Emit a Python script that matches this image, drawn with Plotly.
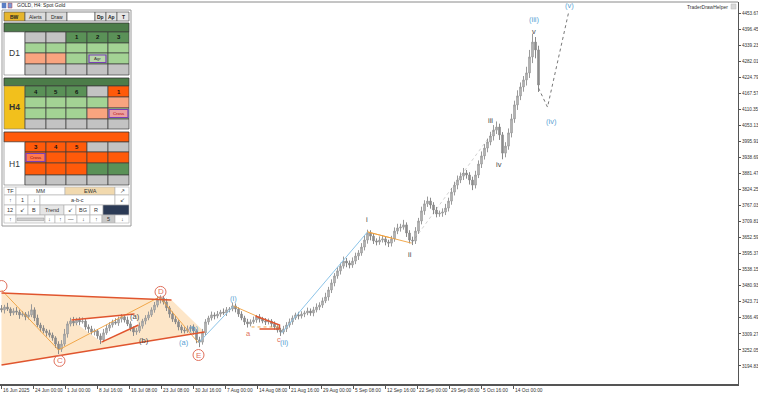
import plotly.graph_objects as go

# ---------------- data ----------------
closes = [
    3395, 3405, 3398, 3384, 3391, 3387, 3377, 3380, 3370, 3377,
    3395, 3366, 3341, 3330, 3320, 3313, 3305, 3295, 3273, 3255,
    3273, 3309, 3345, 3355, 3348, 3359, 3352, 3355, 3334, 3327,
    3316, 3320, 3302, 3288, 3313, 3330, 3341, 3352, 3348, 3362,
    3370, 3359, 3345, 3330, 3316, 3320, 3337, 3355, 3366, 3377,
    3395, 3412, 3430, 3437, 3423, 3402, 3380, 3362, 3352, 3334,
    3323, 3320, 3327, 3334, 3320, 3288, 3280, 3313, 3352, 3366,
    3377, 3373, 3380, 3387, 3384, 3395, 3398, 3409, 3398, 3380,
    3366, 3352, 3345, 3352, 3359, 3370, 3362, 3355, 3352, 3355,
    3345, 3334, 3323, 3316, 3327, 3341, 3352, 3366, 3377, 3373,
    3380, 3384, 3391, 3384, 3395, 3405, 3412, 3427, 3441, 3466,
    3491, 3516, 3534, 3551, 3569, 3562, 3555, 3569, 3587, 3598,
    3619, 3644, 3669, 3658, 3641, 3637, 3644, 3648, 3637, 3633,
    3648, 3676, 3687, 3690, 3698, 3669, 3644, 3641, 3676, 3712,
    3748, 3773, 3783, 3769, 3751, 3737, 3740, 3744, 3758, 3783,
    3815, 3840, 3858, 3872, 3883, 3876, 3858, 3840, 3876, 3915,
    3944, 3972, 3994, 4015, 4036, 4047, 4019, 3954, 3979, 4026,
    4076, 4126, 4158, 4190, 4215, 4240, 4297, 4350, 4322, 4197,
]
wick_up = [
    12, 8, 15, 6, 10, 14, 9, 11, 7, 13,
    20, 9, 12, 8, 10, 7, 11, 9, 6, 10,
    14, 18, 9, 12, 15, 8, 10, 13, 7, 9,
    11, 8, 6, 9, 14, 12, 10, 8, 13, 9,
    10, 7, 12, 9, 6, 11, 13, 8, 10, 12,
    9, 11, 14, 10, 8, 12, 7, 9, 11, 6,
    8, 10, 12, 7, 9, 6, 11, 14, 10, 8,
    12, 9, 11, 8, 13, 10, 7, 12, 9, 6,
    10, 8, 11, 9, 12, 7, 10, 8, 11, 9,
    7, 9, 6, 8, 11, 10, 12, 9, 8, 11,
    10, 8, 12, 9, 11, 13, 10, 12, 15, 11,
    13, 10, 14, 12, 16, 11, 9, 13, 12, 10,
    14, 16, 12, 10, 11, 9, 13, 12, 10, 8,
    11, 13, 15, 12, 18, 9, 10, 12, 14, 11,
    15, 13, 16, 12, 10, 11, 9, 13, 15, 12,
    14, 12, 16, 13, 18, 11, 10, 12, 15, 13,
    16, 14, 12, 15, 18, 20, 12, 10, 14, 16,
    18, 15, 20, 16, 14, 22, 25, 30, 18, 15,
]
wick_dn = [
    9, 13, 7, 11, 8, 10, 14, 6, 12, 9,
    8, 11, 7, 12, 9, 13, 8, 10, 14, 18,
    10, 7, 13, 9, 11, 8, 12, 6, 10, 14,
    9, 12, 10, 15, 8, 7, 11, 9, 6, 10,
    12, 9, 8, 11, 14, 10, 7, 9, 12, 8,
    7, 10, 8, 12, 9, 11, 13, 10, 8, 12,
    11, 9, 7, 10, 13, 12, 18, 9, 8, 10,
    9, 12, 8, 10, 7, 11, 9, 8, 12, 10,
    8, 11, 13, 9, 7, 10, 12, 8, 11, 9,
    12, 10, 9, 14, 8, 11, 9, 10, 7, 12,
    9, 11, 8, 10, 12, 9, 11, 10, 8, 13,
    11, 12, 10, 13, 9, 15, 12, 10, 11, 14,
    10, 12, 13, 15, 11, 12, 10, 9, 12, 14,
    12, 10, 11, 13, 9, 14, 12, 15, 11, 10,
    12, 14, 11, 13, 15, 12, 10, 13, 11, 12,
    13, 12, 15, 11, 14, 13, 16, 18, 12, 11,
    14, 13, 15, 12, 16, 14, 18, 22, 15, 13,
    16, 14, 18, 15, 17, 20, 18, 22, 30, 25,
]
first_open = 3400
bars_per_candle = 3

x_tick_bars = [0, 32, 64, 96, 128, 160, 192, 224, 256, 288, 320, 352, 384, 416, 448, 480, 512]
x_tick_labels = ["16 Jun 2025", "24 Jun 00:00", "1 Jul 00:00", "8 Jul 16:00", "16 Jul 08:00",
                 "23 Jul 08:00", "30 Jul 16:00", "7 Aug 00:00", "14 Aug 08:00", "21 Aug 16:00",
                 "29 Aug 00:00", "5 Sep 08:00", "12 Sep 16:00", "22 Sep 00:00", "29 Sep 08:00",
                 "5 Oct 16:00", "14 Oct 00:00"]
y_ticks = [4453.67, 4396.45, 4339.23, 4282.01, 4224.79, 4167.57, 4110.35, 4053.13, 3995.91,
           3938.69, 3881.47, 3824.25, 3767.03, 3709.81, 3652.59, 3595.37, 3538.15, 3480.93,
           3423.71, 3366.49, 3309.27, 3252.05, 3194.83]

# Elliott-wave drawing objects (bar, price)
wedge_bar = [0, 170, 203, 0]
wedge_price = [3455, 3430, 3316, 3198]
inner_bar = [70, 133, 137, 100]
inner_price = [3359, 3380, 3341, 3280]

red_lines = [
    ([0, 170], [3455, 3430]),
    ([0, 203], [3198, 3316]),
    ([70, 133], [3359, 3380]),
    ([100, 137], [3280, 3341]),
    ([254, 278, 278, 258], [3373, 3341, 3327, 3327]),
]
orange_lines = [
    ([0, 57, 158, 197], [3466, 3252, 3441, 3277]),
    ([232, 255], [3409, 3373]),
    ([366, 390], [3673, 3651]),
    ([366, 410], [3673, 3633]),
]
orange_dotted = [([250, 278], [3334, 3334])]
blue_lines = [
    ([197, 232], [3277, 3409]),
    ([280, 366], [3312, 3673]),
]
gray_dotted = [([410, 495], [3633, 4047])]
projection_bar = [537, 546, 567]
projection_price = [4186, 4118, 4454]

circle_labels = [("", 0, 3480), ("C", 58, 3213), ("D", 159, 3459), ("E", 197, 3234)]
wave_labels = [
    ("(a)", 133, 3373, "#4a4a4a"), ("(b)", 142, 3284, "#4a4a4a"),
    ("(a)", 182, 3280, "#5a9fd4"), ("(b)", 192, 3330, "#5a9fd4"),
    ("(i)", 232, 3434, "#5a9fd4"), ("(ii)", 283, 3277, "#5a9fd4"),
    ("a", 247, 3309, "#e0705c"), ("c", 277, 3290, "#e0705c"),
    ("i", 365, 3719, "#4a4a4a"), ("ii", 408, 3591, "#4a4a4a"),
    ("iii", 489, 4072, "#4a4a4a"), ("iv", 497, 3912, "#4a4a4a"), ("v", 532, 4389, "#4a4a4a"),
    ("(iii)", 532, 4429, "#5a9fd4"), ("(iv)", 550, 4065, "#5a9fd4"), ("(v)", 568, 4479, "#5a9fd4"),
]

# ---------------- figure ----------------
xs = [i * bars_per_candle for i in range(len(closes))]
opens = [first_open] + closes[:-1]
highs = [max(o, c) + w for o, c, w in zip(opens, closes, wick_up)]
lows = [min(o, c) - w for o, c, w in zip(opens, closes, wick_dn)]

W, H = 758, 395
L, R, T, B = 0, 20, 2, 11
PW, PH = W - L - R, H - T - B
Y0, Y1 = 3130.6, 4492.9
X0, X1 = -1.5, PW - 1.5

fig = go.Figure()
fig.add_trace(go.Candlestick(
    x=xs, open=opens, high=highs, low=lows, close=closes,
    increasing=dict(line=dict(color="#9a9a9a", width=1), fillcolor="#c8c8c8"),
    decreasing=dict(line=dict(color="#8a8a8a", width=1), fillcolor="#8f8f8f"),
    whiskerwidth=0, showlegend=False, hoverinfo="skip"))

def line_trace(bx, py, color, width=1, dash="solid"):
    fig.add_trace(go.Scatter(x=bx, y=py, mode="lines", line=dict(color=color, width=width, dash=dash),
                             showlegend=False, hoverinfo="skip"))

for bx, py in orange_lines:
    line_trace(bx, py, "rgba(240,160,60,0.9)", 1)
for bx, py in orange_dotted:
    line_trace(bx, py, "rgba(240,160,60,0.9)", 1, "dot")
for bx, py in blue_lines:
    line_trace(bx, py, "#8cc4e8", 1)
for bx, py in gray_dotted:
    line_trace(bx, py, "rgba(120,120,120,0.35)", 1, "dot")
for bx, py in red_lines:
    line_trace(bx, py, "#e0552e", 1.5)
line_trace(projection_bar, projection_price, "#777777", 1, "dot")

shapes = []
def poly(bx, py, fill):
    path = "M " + " L ".join(f"{a},{b}" for a, b in zip(bx, py)) + " Z"
    shapes.append(dict(type="path", xref="x", yref="y", path=path, fillcolor=fill,
                       line=dict(width=0), layer="below"))
poly(wedge_bar, wedge_price, "#fde6c8")
poly(inner_bar, inner_price, "#ffffff")

annotations = []
ppx = (Y1 - Y0) / PH  # price per pixel
for t, b, p in circle_labels:
    shapes.append(dict(type="circle", xref="x", yref="y", x0=b - 5.5, x1=b + 5.5,
                       y0=p - 5.5 * ppx, y1=p + 5.5 * ppx, line=dict(color="#e0705c", width=1)))
    if t:
        annotations.append(dict(x=b, y=p, xref="x", yref="y", text=t, showarrow=False,
                                font=dict(size=8, color="#e0705c", family="Liberation Sans")))
for t, b, p, c in wave_labels:
    annotations.append(dict(x=b, y=p, xref="x", yref="y", text=t, showarrow=False,
                            font=dict(size=7.5, color=c, family="Liberation Sans")))

# ---------------- panel widget (pixel layout) ----------------
def P(px):
    return (px - L) / PW
def Q(py):
    return (T + PH - py) / PH

def rect(x0, y0, x1, y1, fill, lc="#3c3c3c", lw=0.8):
    shapes.append(dict(type="rect", xref="paper", yref="paper", x0=P(x0), x1=P(x1),
                       y0=Q(y1), y1=Q(y0), fillcolor=fill, line=dict(color=lc, width=lw), layer="above"))

def txt(x, y, s, size=5.5, color="#222", bold=False, anchor="center"):
    if bold:
        s = "<b>" + s + "</b>"
    annotations.append(dict(x=P(x), y=Q(y), xref="paper", yref="paper", text=s, showarrow=False,
                            xanchor=anchor, yanchor="middle",
                            font=dict(size=size, color=color, family="Liberation Sans")))

DG, LG, GR, SA, OR, GO = "#5a9157", "#a3d394", "#c3c3c3", "#f9a47f", "#ff5a0a", "#f2c01c"

# title
rect(2, 3, 6, 8, "#5b7fc4", "#5b7fc4", 0.5)
rect(8, 3, 12, 8, "#7b9bd8", "#c04040", 0.5)
txt(15, 5.5, "GOLD, H4: Spot Gold", 5, "#222", anchor="left")
txt(730, 7, "TraderDrawHelper", 5, "#333", anchor="right")
rect(731, 4, 736, 9, "#d8d8d8", "#bbbbbb", 0.5)

# panel frame
rect(2, 10, 131, 226, "#ffffff", "#9a9a9a", 1)

# buttons
btns = [("BW", 4, 25, "#e6b52c"), ("Alerts", 25, 46, "#dcdcdc"), ("Draw", 46, 67, "#dcdcdc"),
        ("", 67, 95, "#ffffff"), ("Dp", 95, 106, "#e6e6e6"), ("Ap", 106, 117, "#e6e6e6"),
        ("T", 117, 129, "#e6e6e6")]
for s, a, b, f in btns:
    rect(a, 12, b, 21, f, "#555", 0.7)
    txt((a + b) / 2, 16.5, s, 5, "#222", bold=s in ("BW", "Dp", "Ap", "T"))

cols = [25, 46, 66, 87, 108, 129]

def block(top_bar_y, bar_color, rows_y, label, label_fill, label_bold, rows):
    rect(4, top_bar_y[0], 129, top_bar_y[1], bar_color, "#333", 0.8)
    rect(4, rows_y[0], 25, rows_y[-1], label_fill, "#777", 0.6)
    txt(14.5, (rows_y[0] + rows_y[-1]) / 2, label, 8.5, "#333", bold=label_bold)
    for r, row in enumerate(rows):
        for c, (fill, s) in enumerate(row):
            rect(cols[c], rows_y[r], cols[c + 1], rows_y[r + 1], fill, "#3c3c3c", 0.7)
            if s:
                txt((cols[c] + cols[c + 1]) / 2, (rows_y[r] + rows_y[r + 1]) / 2, s, 6, "#111", bold=True)

block((23, 32), "#4c7c49", [32, 43, 53, 64, 75], "D1", "#ffffff", False, [
    [(GR, ""), (GR, ""), (DG, "1"), (DG, "2"), (DG, "3")],
    [(LG, "")] * 5,
    [(SA, ""), (SA, ""), (LG, ""), (LG, ""), (LG, "")],
    [(GR, "")] * 5,
])
rect(89, 55, 106, 62.5, "#b9d6aa", "#7a3fb8", 1.2)
txt(97.5, 58.7, "Agr", 4.3, "#333")

block((78, 86), "#4c7c49", [86, 97, 108, 119, 129], "H4", GO, True, [
    [(DG, "4"), (DG, "5"), (DG, "6"), (GR, ""), (OR, "1")],
    [(LG, ""), (LG, ""), (LG, ""), (LG, ""), (SA, "")],
    [(LG, ""), (LG, ""), (LG, ""), (SA, ""), (LG, "")],
    [(GR, "")] * 5,
])
rect(109, 109.5, 128, 117.5, "#eba0a0", "#7a3fb8", 1.2)
txt(118.5, 113.5, "Cross", 4.3, "#b00000")

block((132, 142), OR, [142, 152, 163, 175, 185], "H1", "#ffffff", False, [
    [(OR, "3"), (OR, "4"), (OR, "5"), (GR, ""), (GR, "")],
    [(OR, "")] * 5,
    [(OR, ""), (OR, ""), (OR, ""), (DG, ""), (DG, "")],
    [(GR, "")] * 5,
])
rect(26, 153.5, 45, 161.5, "#ff7a50", "#7a3fb8", 1.2)
txt(35.5, 157.5, "Cross", 4.3, "#8a0000")

# control panel
ctrl = [
    (187, 195, [("TF", 4, 16, "#fff"), ("MM", 16, 65, "#fff"), ("EWA", 65, 115, "#f1d9ae"), ("↗", 115, 129, "#fff")]),
    (195, 205, [("↑", 4, 16, "#fff"), ("1", 16, 28, "#fff"), ("↓", 28, 40, "#fff"), ("a-b-c", 40, 115, "#fff"), ("↙", 115, 129, "#fff")]),
    (205, 215, [("12", 4, 16, "#fff"), ("↙", 16, 28, "#fff"), ("B", 28, 40, "#fff"), ("Trend", 40, 64, "#e6e6e6"),
                ("↙", 64, 76, "#fff"), ("BG", 76, 90, "#fff"), ("R", 90, 103, "#fff"), ("", 103, 129, "#2b3a55")]),
    (215, 223, [("↑", 4, 16, "#fff"), ("", 16, 45, "#f4f4f4"), ("↓", 45, 55, "#fff"), ("↑", 55, 65, "#fff"),
                ("—", 65, 77, "#fff"), ("↓", 77, 90, "#fff"), ("↑", 90, 102, "#fff"), ("5", 102, 115, "#c8c8c8"),
                ("↓", 115, 129, "#fff")]),
]
for y0, y1, cells in ctrl:
    for s, a, b, f in cells:
        rect(a, y0, b, y1, f, "#b0b0b0", 0.6)
        if s:
            txt((a + b) / 2, (y0 + y1) / 2, s, 5.5, "#333")
rect(17, 218, 44, 220.5, "#d0d0d0", "#9a9a9a", 0.5)

# chart top border
shapes.append(dict(type="line", xref="paper", yref="paper", x0=0, x1=1, y0=1, y1=1,
                   line=dict(color="#8a8a8a", width=1)))

fig.update_layout(
    width=W, height=H, margin=dict(l=L, r=R, t=T, b=B),
    paper_bgcolor="white", plot_bgcolor="white",
    shapes=shapes, annotations=annotations, showlegend=False,
    xaxis=dict(range=[X0, X1], tickvals=x_tick_bars, ticktext=x_tick_labels, tickangle=0,
               ticklabelposition="outside right", tickfont=dict(size=4.8, color="#333", family="Liberation Sans"),
               ticks="outside", ticklen=3, tickcolor="#555", showgrid=False, zeroline=False,
               showline=True, linecolor="#555", linewidth=2, rangeslider=dict(visible=False),
               automargin=False, fixedrange=True),
    yaxis=dict(range=[Y0, Y1], side="right", tickvals=y_ticks, ticktext=[f"{v:.2f}" for v in y_ticks],
               tickfont=dict(size=4.6, color="#333", family="Liberation Sans"), ticks="outside", ticklen=2,
               tickcolor="#555", showgrid=False, zeroline=False, showline=True, linecolor="#555",
               linewidth=1, automargin=False, fixedrange=True),
)

fig.write_html("out.html", config={"displayModeBar": False},
               post_script="document.body.style.margin='0px';document.body.style.padding='0px';")
